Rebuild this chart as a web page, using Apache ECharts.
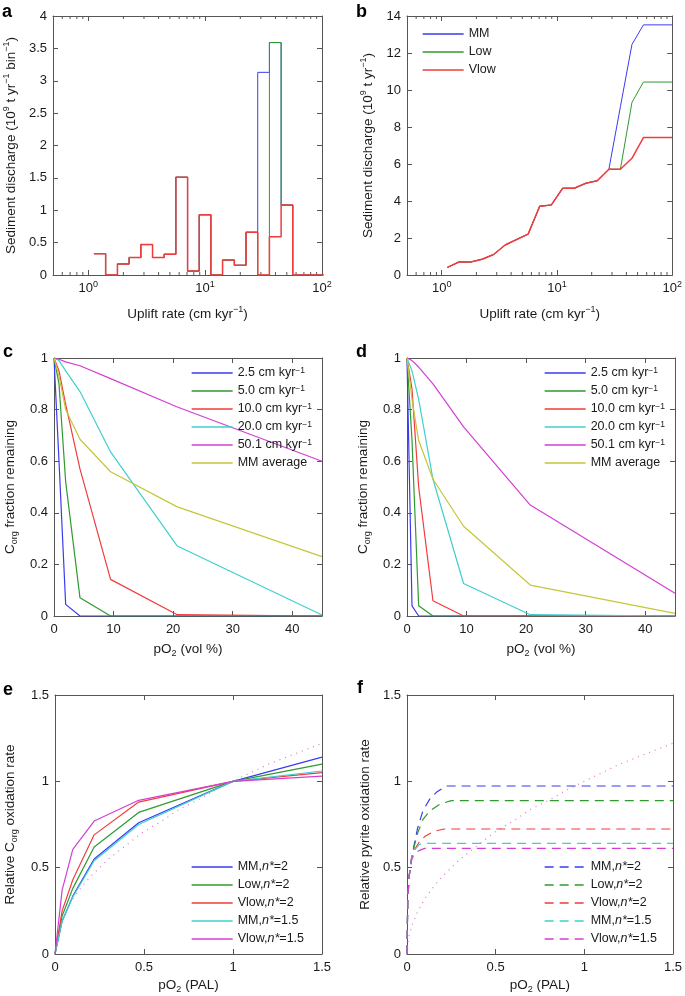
<!DOCTYPE html>
<html><head><meta charset="utf-8">
<script src="https://cdn.jsdelivr.net/npm/echarts@6/dist/echarts.min.js"></script>
<style>html,body{margin:0;padding:0;background:#fff}#c{width:685px;height:996px}</style>
</head><body><div id="c"></div>
<script>
// ================= DATA =================
// Panel a: histogram of sediment discharge per uplift-rate bin
const aBinEdges = [1.12, 1.41, 1.78, 2.24, 2.82, 3.55, 4.47, 5.62, 7.08, 8.91, 11.2, 14.1, 17.8, 22.4, 28.2, 35.5, 44.7, 56.2, 70.8, 89.1, 112];
const aMM   = [0.33, 0, 0.17, 0.27, 0.47, 0.27, 0.32, 1.51, 0.06, 0.93, 0, 0.23, 0.15, 0.66, 3.13, 3.59, 1.08, 0, 0, 0];
const aLow  = [0.33, 0, 0.17, 0.27, 0.47, 0.27, 0.32, 1.51, 0.06, 0.93, 0, 0.23, 0.15, 0.66, 0, 3.59, 1.08, 0, 0, 0];
const aVlow = [0.33, 0, 0.17, 0.27, 0.47, 0.27, 0.32, 1.51, 0.06, 0.93, 0, 0.23, 0.15, 0.66, 0, 0.59, 1.08, 0, 0, 0];

// Panel b: cumulative sediment discharge
const bUplift = [1.12, 1.41, 1.78, 2.24, 2.82, 3.55, 4.47, 5.62, 7.08, 8.91, 11.2, 14.1, 17.8, 22.4, 28.2, 35.5, 44.7, 56.2, 100];
const bMM   = [0.41, 0.70, 0.70, 0.85, 1.11, 1.62, 1.92, 2.21, 3.72, 3.78, 4.69, 4.69, 4.96, 5.10, 5.72, 9.10, 12.46, 13.52, 13.52];
const bLow  = [0.41, 0.70, 0.70, 0.85, 1.11, 1.62, 1.92, 2.21, 3.72, 3.78, 4.69, 4.69, 4.96, 5.10, 5.72, 5.72, 9.33, 10.43, 10.43];
const bVlow = [0.41, 0.70, 0.70, 0.85, 1.11, 1.62, 1.92, 2.21, 3.72, 3.78, 4.69, 4.69, 4.96, 5.10, 5.72, 5.72, 6.31, 7.43, 7.43];

// Panels c, d: Corg fraction remaining vs pO2 (vol %)
const cdPO2 = [0, 0.84, 1.96, 4.36, 9.5, 20.7, 45];
const rateLabels = ['2.5 cm kyr-1', '5.0 cm kyr-1', '10.0 cm kyr-1', '20.0 cm kyr-1', '50.1 cm kyr-1', 'MM average'];
const c25  = [1, 0.60, 0.045, 0, 0, 0, 0];
const c50  = [1, 0.90, 0.52, 0.071, 0, 0, 0];
const c100 = [1, 0.95, 0.82, 0.57, 0.142, 0.005, 0];
const c200 = [1, 0.99, 0.95, 0.87, 0.636, 0.271, 0.004];
const c501 = [1, 0.995, 0.985, 0.97, 0.92, 0.81, 0.60];
const cAvg = [1, 0.93, 0.80, 0.685, 0.559, 0.423, 0.23];
const d25  = [1, 0.039, 0, 0, 0, 0, 0];
const d50  = [1, 0.68, 0.04, 0, 0, 0, 0];
const d100 = [1, 0.88, 0.50, 0.059, 0, 0, 0];
const d200 = [1, 0.95, 0.84, 0.53, 0.126, 0.005, 0];
const d501 = [1, 0.99, 0.965, 0.90, 0.733, 0.43, 0.088];
const dAvg = [1, 0.84, 0.68, 0.53, 0.348, 0.12, 0.01];

// Panel e: relative Corg oxidation rate vs pO2 (PAL)
const scenLabels = ['MM,n*=2', 'Low,n*=2', 'Vlow,n*=2', 'MM,n*=1.5', 'Vlow,n*=1.5'];
const ePO2 = [0, 0.04, 0.1, 0.22, 0.47, 1, 1.5];
const eMM2   = [0, 0.19, 0.335, 0.55, 0.76, 1, 1.14];
const eLow2  = [0, 0.22, 0.38, 0.62, 0.82, 1, 1.10];
const eVlow2 = [0, 0.25, 0.43, 0.69, 0.88, 1, 1.05];
const eMM15  = [0, 0.19, 0.33, 0.54, 0.75, 1, 1.06];
const eVlow15= [0, 0.37, 0.606, 0.77, 0.89, 1, 1.03];

// Panel f: relative pyrite oxidation rate vs pO2 (PAL)
const fMM2X   = [0, 0.004, 0.012, 0.025, 0.04, 0.06, 0.09, 0.13, 0.17, 0.22, 1.5];
const fMM2    = [0, 0.30, 0.45, 0.55, 0.63, 0.73, 0.83, 0.90, 0.94, 0.973, 0.973];
const fLow2X  = [0, 0.004, 0.012, 0.025, 0.04, 0.06, 0.09, 0.13, 0.19, 0.25, 1.5];
const fLow2   = [0, 0.30, 0.45, 0.55, 0.62, 0.70, 0.78, 0.83, 0.87, 0.888, 0.888];
const fVlow2X = [0, 0.004, 0.012, 0.025, 0.04, 0.07, 0.10, 0.15, 0.21, 1.5];
const fVlow2  = [0, 0.30, 0.45, 0.55, 0.60, 0.65, 0.68, 0.71, 0.724, 0.724];
const fMM15X  = [0, 0.004, 0.012, 0.025, 0.04, 0.07, 0.10, 1.5];
const fMM15   = [0, 0.30, 0.45, 0.55, 0.60, 0.635, 0.641, 0.641];
const fVlow15X= [0, 0.004, 0.012, 0.025, 0.04, 0.07, 0.10, 1.5];
const fVlow15 = [0, 0.30, 0.45, 0.54, 0.58, 0.60, 0.612, 0.612];

// Dotted reference curve (panels e, f)
const refX = [0, 0.01, 0.03, 0.06, 0.1, 0.15, 0.2, 0.3, 0.4, 0.5, 0.6, 0.7, 0.8, 0.9, 1.0, 1.1, 1.2, 1.3, 1.4, 1.5];
const refY = [0, 0.10, 0.17, 0.245, 0.32, 0.39, 0.45, 0.55, 0.63, 0.71, 0.77, 0.84, 0.89, 0.95, 1.0, 1.05, 1.1, 1.14, 1.18, 1.22];

// Log-axis minor tick positions (panels a, b)
const logMinorTicks = [0.6, 0.7, 0.8, 0.9, 2, 3, 4, 5, 6, 7, 8, 9, 20, 30, 40, 50, 60, 70, 80, 90];

// ================= STYLE =================
const FONT = '"Liberation Sans", Arial, Helvetica, sans-serif';
const AX = '#555';
const TXT = '#1a1a1a';
const COL = { blue: '#3b3bef', green: '#2f9a2f', red: '#f03c3c', cyan: '#3fcfcf', magenta: '#d33fd3', yellow: '#c6c63a', dot: '#dc78c6' };
const rich = {
  sup: { fontSize: 9, lineHeight: 10, verticalAlign: 'top', fontFamily: FONT, color: TXT },
  sub: { fontSize: 9, lineHeight: 10, verticalAlign: 'bottom', fontFamily: FONT, color: TXT },
  it: { fontStyle: 'italic', fontSize: 11.5, fontFamily: FONT, color: TXT }
};
const nameStyle = { fontSize: 13.5, fontFamily: FONT, color: TXT, lineHeight: 18, rich: rich };

const grids = [
  { left: 53, top: 16, width: 269, height: 259 },
  { left: 407, top: 16, width: 268, height: 259 },
  { left: 53, top: 358, width: 269, height: 258 },
  { left: 407, top: 358, width: 268, height: 258 },
  { left: 53, top: 695, width: 269, height: 259 },
  { left: 407, top: 695, width: 268, height: 259 }
];

function logFmt(v) {
  const e = Math.round(Math.log10(v));
  if (Math.abs(Math.pow(10, e) - v) > 1e-6 * v) return '';
  return '10{sup|' + e + '}';
}

const xAxes = [], yAxes = [];
function addAxes(gi, xs, ys) {
  const base = (pos) => ({
    gridIndex: gi, position: pos,
    axisLine: { show: true, onZero: false, lineStyle: { color: AX, width: 1 } },
    axisTick: { show: true, inside: true, length: 5, lineStyle: { color: AX, width: 1 } },
    splitLine: { show: false },
    minorTick: { show: false }
  });
  [['bottom', true], ['top', false]].forEach(([pos, show]) => {
    const ax = Object.assign(base(pos), {
      type: xs.type, min: xs.min, max: xs.max,
      axisLabel: {
        show: show, margin: 5, fontSize: 13, color: TXT, fontFamily: FONT,
        showMaxLabel: xs.showMax !== false, showMinLabel: true,
        formatter: xs.formatter, rich: { sup: { fontSize: 9, lineHeight: 10, verticalAlign: 'top', fontFamily: FONT, color: TXT } },
        lineHeight: 16
      }
    });
    if (xs.type === 'log') ax.logBase = 10; else ax.interval = xs.interval;
    if (show) { ax.name = xs.name; ax.nameLocation = 'middle'; ax.nameGap = xs.nameGap; ax.nameTextStyle = nameStyle; }
    xAxes.push(ax);
  });
  [['left', true], ['right', false]].forEach(([pos, show]) => {
    const ax = Object.assign(base(pos), {
      type: 'value', min: ys.min, max: ys.max, interval: ys.interval,
      axisLabel: { show: show, margin: 6, fontSize: 13, color: TXT, fontFamily: FONT }
    });
    if (show) { ax.name = ys.name; ax.nameLocation = 'middle'; ax.nameGap = ys.nameGap; ax.nameRotate = 90; ax.nameTextStyle = nameStyle; }
    yAxes.push(ax);
  });
}

addAxes(0, { type: 'log', min: 0.5, max: 100, formatter: logFmt, name: 'Uplift rate (cm kyr{sup|−1})', nameGap: 30 },
           { min: 0, max: 4, interval: 0.5, name: 'Sediment discharge (10{sup|9} t yr{sup|−1} bin{sup|−1})', nameGap: 33 });
addAxes(1, { type: 'log', min: 0.5, max: 100, formatter: logFmt, name: 'Uplift rate (cm kyr{sup|−1})', nameGap: 30 },
           { min: 0, max: 14, interval: 2, name: 'Sediment discharge (10{sup|9} t yr{sup|−1})', nameGap: 30 });
addAxes(2, { type: 'value', min: 0, max: 45, interval: 10, showMax: false, name: 'pO{sub|2} (vol %)', nameGap: 24 },
           { min: 0, max: 1, interval: 0.2, name: 'C{sub|org} fraction remaining', nameGap: 35 });
addAxes(3, { type: 'value', min: 0, max: 45, interval: 10, showMax: false, name: 'pO{sub|2} (vol %)', nameGap: 24 },
           { min: 0, max: 1, interval: 0.2, name: 'C{sub|org} fraction remaining', nameGap: 35 });
addAxes(4, { type: 'value', min: 0, max: 1.5, interval: 0.5, name: 'pO{sub|2} (PAL)', nameGap: 22 },
           { min: 0, max: 1.5, interval: 0.5, name: 'Relative C{sub|org} oxidation rate', nameGap: 36 });
addAxes(5, { type: 'value', min: 0, max: 1.5, interval: 0.5, name: 'pO{sub|2} (PAL)', nameGap: 22 },
           { min: 0, max: 1.5, interval: 0.5, name: 'Relative pyrite oxidation rate', nameGap: 33 });

// ================= SERIES =================
const series = [];
function stairs(edges, vals) {
  const pts = [];
  vals.forEach((v, i) => { pts.push([edges[i], v]); pts.push([edges[i + 1], v]); });
  return pts;
}
function pairs(xs, ys) { return xs.map((x, i) => [x, ys[i]]); }
function line(gi, name, data, color, extra, width) {
  const w = width || 1.2;
  series.push(Object.assign({
    type: 'line', name: name, xAxisIndex: 2 * gi, yAxisIndex: 2 * gi, data: data,
    symbol: 'none', clip: true, animation: false,
    lineStyle: { color: color, width: w }, itemStyle: { color: color }
  }, extra || {}));
}
function minorTicks(gi) {
  series.push({
    type: 'custom', xAxisIndex: 2 * gi, yAxisIndex: 2 * gi, silent: true, animation: false,
    data: logMinorTicks.map(v => [v, 0]),
    encode: { x: 0, y: 1 },
    renderItem: function (params, api) {
      const cs = params.coordSys;
      const px = api.coord([api.value(0), api.value(1)])[0];
      return { type: 'group', children: [
        { type: 'line', shape: { x1: px, y1: cs.y + cs.height, x2: px, y2: cs.y + cs.height - 3 }, style: { stroke: AX, lineWidth: 1 } },
        { type: 'line', shape: { x1: px, y1: cs.y, x2: px, y2: cs.y + 3 }, style: { stroke: AX, lineWidth: 1 } }
      ] };
    }
  });
}

// a
minorTicks(0);
line(0, 'a:MM', stairs(aBinEdges, aMM), COL.blue, null, 1.0);
line(0, 'a:Low', stairs(aBinEdges, aLow), COL.green, null, 1.0);
line(0, 'a:Vlow', stairs(aBinEdges, aVlow), COL.red, null, 1.5);
// b
minorTicks(1);
line(1, 'MM', pairs(bUplift, bMM), COL.blue, null, 1.0);
line(1, 'Low', pairs(bUplift, bLow), COL.green, null, 1.0);
line(1, 'Vlow', pairs(bUplift, bVlow), COL.red, null, 1.5);
// c, d
const cdColors = [COL.blue, COL.green, COL.red, COL.cyan, COL.magenta, COL.yellow];
[c25, c50, c100, c200, c501, cAvg].forEach((arr, k) => line(2, 'c:' + rateLabels[k], pairs(cdPO2, arr), cdColors[k]));
[d25, d50, d100, d200, d501, dAvg].forEach((arr, k) => line(3, 'd:' + rateLabels[k], pairs(cdPO2, arr), cdColors[k]));
// e
line(4, 'e:ref', pairs(refX.slice(4), refY.slice(4)), COL.dot, { lineStyle: { color: COL.dot, width: 1.2, type: [1, 5] } });
const eColors = [COL.blue, COL.green, COL.red, COL.cyan, COL.magenta];
[eMM2, eLow2, eVlow2, eMM15, eVlow15].forEach((arr, k) => line(4, 'e:' + scenLabels[k], pairs(ePO2, arr), eColors[k]));
// f
line(5, 'f:ref', pairs(refX, refY), COL.dot, { lineStyle: { color: COL.dot, width: 1.2, type: [1, 5] } });
[[fMM2X, fMM2], [fLow2X, fLow2], [fVlow2X, fVlow2], [fMM15X, fMM15], [fVlow15X, fVlow15]].forEach((p, k) =>
  line(5, 'f:' + scenLabels[k], pairs(p[0], p[1]), eColors[k], { lineStyle: { color: eColors[k], width: 1.2, type: [9, 6] } }));

// ================= LEGENDS =================
function legFmt(name) {
  const i = name.indexOf(':');
  let s = i >= 0 ? name.slice(i + 1) : name;
  return s.replace('kyr-1', 'kyr{sup|−1}').replace('n*', '{it|n*}');
}
function legend(names, left, top) {
  return {
    data: names, left: left, top: top, orient: 'vertical', padding: 0,
    itemWidth: 41, itemHeight: 13, itemGap: 4, selectedMode: false,
    itemStyle: { opacity: 0 },
    lineStyle: { width: 1.3 },
    formatter: legFmt,
    textStyle: { fontSize: 12.5, fontFamily: FONT, color: TXT, lineHeight: 14,
      rich: { sup: { fontSize: 8.5, lineHeight: 9, verticalAlign: 'top', fontFamily: FONT, color: TXT },
              it: { fontStyle: 'italic', fontSize: 12.5, fontFamily: FONT, color: TXT } } }
  };
}
const legends = [
  legend(['MM', 'Low', 'Vlow'], 422, 27),
  legend(rateLabels.map(s => 'c:' + s), 191, 366),
  legend(rateLabels.map(s => 'd:' + s), 544, 366),
  legend(scenLabels.map(s => 'e:' + s), 191, 860),
  legend(scenLabels.map(s => 'f:' + s), 544, 860)
];

// ================= PANEL LETTERS =================
function letter(t, x, y) {
  return { type: 'text', x: x, y: y, style: { text: t, font: 'bold 18px ' + FONT, fill: '#000', align: 'left', verticalAlign: 'middle', textAlign: 'left', textVerticalAlign: 'middle' } };
}

const chart = echarts.init(document.getElementById('c'), null, { renderer: 'canvas' });
chart.setOption({
  backgroundColor: '#fff',
  animation: false,
  grid: grids,
  xAxis: xAxes,
  yAxis: yAxes,
  legend: legends,
  series: series,
  graphic: [letter('a', 2, 12), letter('b', 356, 12), letter('c', 3, 352), letter('d', 356, 352), letter('e', 3, 690), letter('f', 357, 688)]
});
</script>
</body></html>
